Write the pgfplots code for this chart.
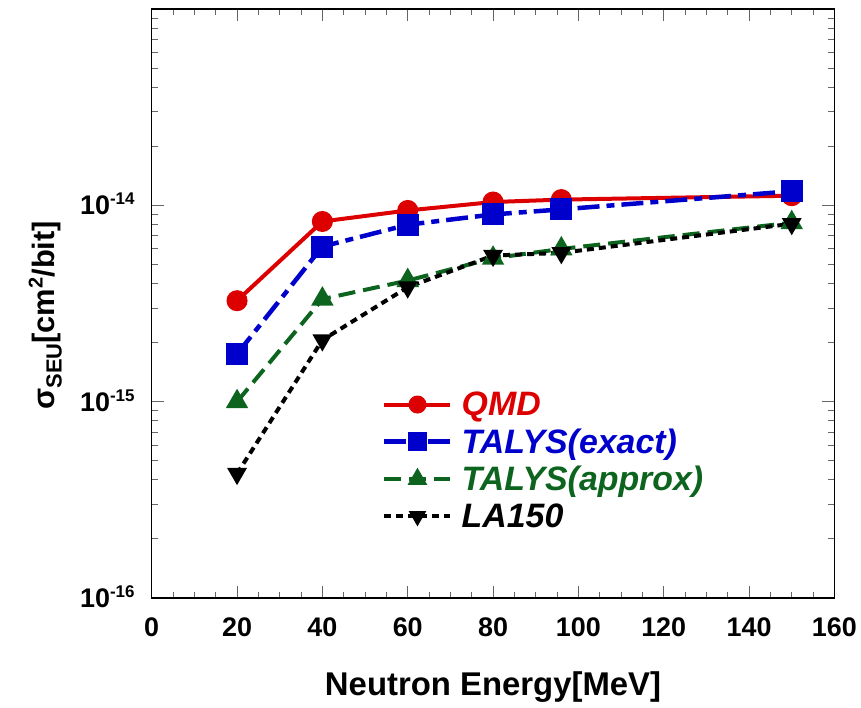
\documentclass[border=0pt]{standalone}
\usepackage{fontspec}
\setmainfont{Liberation Sans}
\usepackage{pgfplots}
\pgfplotsset{compat=1.18}

\definecolor{qmdred}{RGB}{221,0,0}
\definecolor{talysblue}{RGB}{0,0,204}
\definecolor{approxgreen}{RGB}{12,100,30}

% decade label: bold 10 with a smaller raised exponent
\newcommand{\decade}[1]{10\raisebox{10bp}{\fontsize{17}{17}\selectfont #1}}

\begin{document}
\begin{tikzpicture}
\begin{axis}[
  scale only axis,
  width=682.7bp, height=589bp,
  xmin=0, xmax=160,
  ymode=log, ymin=1e-16, ymax=1e-13,
  xtick={0,20,...,160},
  xticklabels={0,20,40,60,80,100,120,140,160},
  minor x tick num=3,
  ytick={1e-16,1e-15,1e-14},
  yticklabels={\decade{-16},\decade{-15},\decade{-14}},
  minor ytick={2e-16,3e-16,4e-16,5e-16,6e-16,7e-16,8e-16,9e-16,
               2e-15,3e-15,4e-15,5e-15,6e-15,7e-15,8e-15,9e-15,
               2e-14,3e-14,4e-14,5e-14,6e-14,7e-14,8e-14,9e-14},
  tick align=inside,
  major tick length=12bp, minor tick length=6bp,
  tick style={black!60, line width=1bp},
  axis line style={line width=1.3bp},
  xticklabel style={font=\fontsize{27}{27}\selectfont\bfseries, anchor=north, inner sep=0pt, yshift=-19bp},
  yticklabel style={font=\fontsize{27}{27}\selectfont\bfseries, anchor=base east, inner sep=0pt, xshift=-17bp, yshift=-9.5bp},
  xlabel={Neutron Energy[MeV]},
  xlabel style={font=\fontsize{33}{33}\selectfont\bfseries, at={(axis description cs:0.5,-0.165)}, anchor=base},
  ylabel={σ\raisebox{-7bp}{\fontsize{22}{22}\selectfont SEU}[cm\raisebox{12bp}{\fontsize{20}{20}\selectfont 2}/bit]},
  ylabel style={font=\fontsize{31}{31}\selectfont\bfseries, at={(axis description cs:-0.156,0.48)}, anchor=center},
  legend style={
    at={(axis description cs:0.333,0.357)}, anchor=north west,
    draw=none, fill=none,
    font=\fontsize{34}{34}\selectfont\bfseries\itshape,
    row sep=7.5bp, column sep=7bp,
  },
  legend cell align=left,
  legend image code/.code={
    \draw[mark repeat=2, mark phase=2, #1, every mark/.append style={scale=0.82}]
      plot coordinates {(0bp,0bp) (33bp,0bp) (66bp,0bp)};
  },
]

% QMD
\addplot[qmdred, line width=4bp, mark=*, mark size=8.5bp, mark options={solid}]
  coordinates {(20,3.27e-15) (40,8.28e-15) (60,9.42e-15) (80,1.04e-14) (96,1.07e-14) (150,1.12e-14)};
\addlegendentry{\color{qmdred}QMD}

% TALYS, exact treatment
\addplot[talysblue, line width=4.5bp, dash pattern=on 22bp off 7bp on 8bp off 7bp, mark=square*, mark size=8.8bp, mark options={solid}]
  coordinates {(20,1.75e-15) (40,6.17e-15) (60,7.97e-15) (80,8.99e-15) (96,9.54e-15) (150,1.18e-14)};
\addlegendentry{\color{talysblue}TALYS(exact)}

% TALYS, approximate treatment
\addplot[approxgreen, line width=4bp, dash pattern=on 17bp off 8bp, mark=triangle*, mark size=9bp, mark options={solid}]
  coordinates {(20,1.0e-15) (40,3.33e-15) (60,4.14e-15) (80,5.38e-15) (96,6.0e-15) (150,8.16e-15)};
\addlegendentry{\color{approxgreen}TALYS(approx)}

% LA150 library
\addplot[black, line width=4bp, dash pattern=on 7bp off 5bp, mark=triangle*, mark size=7.5bp, mark options={solid, rotate=180}]
  coordinates {(20,4.3e-16) (40,2.06e-15) (60,3.83e-15) (80,5.55e-15) (96,5.73e-15) (150,8.06e-15)};
\addlegendentry{LA150}

\end{axis}
\pgfresetboundingbox
\path[use as bounding box]
  ([shift={(-151.7bp,-110bp)}]current axis.south west)
  rectangle ([shift={(26.6bp,9bp)}]current axis.north east);
\end{tikzpicture}
\end{document}
